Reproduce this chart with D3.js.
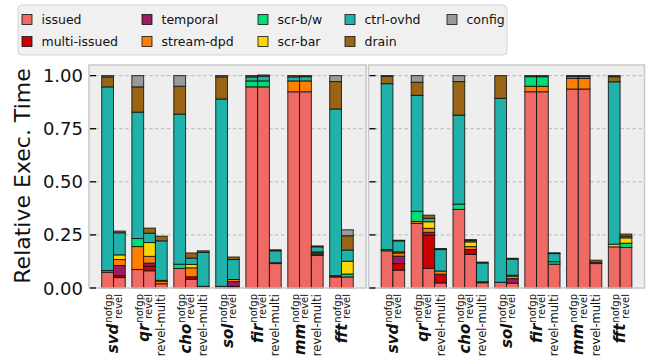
<!DOCTYPE html>
<html>
<head>
<meta charset="utf-8">
<script src="https://cdn.jsdelivr.net/npm/d3@7"></script>
<style>
  html, body { margin: 0; padding: 0; background: #fff; }
  svg { display: block; font-family: "DejaVu Sans", sans-serif; }
</style>
</head>
<body>
<svg id="chart" width="652" height="364"></svg>
<script>
// Benchmarks and the configurations run for each
const benchmarks = ["svd", "qr", "cho", "sol", "fir", "mm", "fft"];
const variants = [
  ["nofgp", "revel"],
  ["nofgp", "revel", "revel-multi"],
  ["nofgp", "revel", "revel-multi"],
  ["nofgp", "revel"],
  ["nofgp", "revel", "revel-multi"],
  ["nofgp", "revel", "revel-multi"],
  ["nofgp", "revel"]
];

// Stack components, bottom to top
const components = ["issued", "multi-issued", "temporal", "stream-dpd", "scr-b/w", "scr-bar", "ctrl-ovhd", "drain", "config"];
const colors = ["#ef6a65", "#cc0000", "#9e1a62", "#ff8000", "#00dd77", "#ffd700", "#20b2aa", "#996515", "#999999"];

// One row per panel, one value per bar (bars ordered as benchmarks x variants)
const issued = [
  [0.074, 0.049, 0.087, 0.081, 0.020, 0.092, 0.041, 0.008, 0.008, 0.004, 0.947, 0.947, 0.115, 0.924, 0.924, 0.153, 0.052, 0.052],
  [0.175, 0.084, 0.304, 0.092, 0.024, 0.370, 0.158, 0.025, 0.027, 0.023, 0.924, 0.924, 0.112, 0.937, 0.937, 0.115, 0.194, 0.191]
];
const multiIssued = [
  [0, 0.009, 0, 0.022, 0, 0, 0.012, 0, 0, 0.004, 0, 0, 0, 0, 0, 0, 0.006, 0],
  [0, 0.031, 0, 0.157, 0.041, 0, 0.023, 0.004, 0, 0, 0, 0, 0, 0, 0, 0, 0, 0]
];
const temporal = [
  [0, 0.048, 0, 0.014, 0, 0, 0, 0, 0, 0.022, 0, 0, 0, 0, 0, 0, 0, 0],
  [0, 0.035, 0, 0.013, 0, 0, 0, 0, 0, 0.021, 0, 0, 0, 0, 0, 0, 0, 0]
];
const streamDpd = [
  [0, 0.028, 0.108, 0.032, 0.012, 0, 0.042, 0, 0, 0.010, 0, 0, 0, 0.051, 0.051, 0.006, 0, 0],
  [0, 0.015, 0.009, 0.019, 0.015, 0, 0.014, 0, 0, 0.012, 0.026, 0.026, 0, 0.050, 0.050, 0, 0, 0]
];
const scrBw = [
  [0.008, 0, 0.038, 0, 0, 0.020, 0, 0, 0, 0, 0.028, 0.028, 0.004, 0, 0, 0.006, 0, 0.014],
  [0.006, 0, 0.048, 0, 0, 0.025, 0, 0, 0, 0, 0.045, 0.045, 0.012, 0, 0, 0, 0, 0.020]
];
const scrBar = [
  [0, 0.022, 0, 0.065, 0.004, 0, 0.016, 0, 0, 0, 0, 0, 0, 0, 0, 0.005, 0, 0.060],
  [0, 0.005, 0, 0.031, 0, 0, 0.022, 0, 0, 0.004, 0, 0, 0, 0, 0, 0, 0.012, 0.025]
];
const ctrlOvhd = [
  [0.865, 0.104, 0.595, 0.044, 0.186, 0.707, 0.030, 0.160, 0.882, 0.094, 0.019, 0.022, 0.056, 0.019, 0.020, 0.024, 0.785, 0.053],
  [0.781, 0.052, 0.546, 0.016, 0.101, 0.419, 0.006, 0.089, 0.866, 0.076, 0.005, 0.005, 0.038, 0.010, 0.010, 0.006, 0.765, 0.008]
];
const drain = [
  [0.047, 0.008, 0.119, 0.024, 0.022, 0.131, 0.024, 0.007, 0.104, 0.012, 0.006, 0.006, 0.005, 0.006, 0.005, 0.004, 0.129, 0.067],
  [0.035, 0.003, 0.062, 0.015, 0.005, 0.158, 0.005, 0.004, 0.107, 0.004, 0, 0, 0.004, 0.003, 0.003, 0.010, 0.024, 0.010]
];
const config = [
  [0.006, 0, 0.053, 0, 0, 0.050, 0, 0, 0.006, 0, 0, 0, 0, 0, 0, 0, 0.028, 0.028],
  [0.003, 0, 0.031, 0, 0, 0.028, 0, 0, 0, 0, 0, 0, 0, 0, 0, 0, 0.005, 0]
];
const series = [issued, multiIssued, temporal, streamDpd, scrBw, scrBar, ctrlOvhd, drain, config];

const yTicks = [0, 0.25, 0.5, 0.75, 1.0];
const yLabel = "Relative Exec. Time";

const svg = d3.select("#chart");

const plotTop = 65, plotBottom = 288;
const panels = [{x0: 89, x1: 366}, {x0: 368.5, x1: 644.5}];
const pad = 1.08, gap = 0.56;

// Position (in bar units) of each bar along the panel
const bars = [];
let cursor = pad;
variants.forEach((vs, gi) => {
  vs.forEach((v, vi) => {
    bars.push({group: gi, variant: v, vi: vi, pos: cursor});
    cursor += 1;
  });
  cursor += gap;
});
const span = cursor - gap + pad;

const y = d3.scaleLinear().domain([0, 1.05]).range([plotBottom, plotTop]);

panels.forEach((p, pi) => {
  const x = d3.scaleLinear().domain([0, span]).range([p.x0, p.x1]);
  const g = svg.append("g");

  g.append("rect").attr("x", p.x0).attr("y", plotTop)
    .attr("width", p.x1 - p.x0).attr("height", plotBottom - plotTop)
    .attr("fill", "#eeeeee");

  // dashed grid
  g.selectAll("line.grid").data(yTicks.slice(1)).join("line")
    .attr("x1", p.x0).attr("x2", p.x1)
    .attr("y1", d => y(d)).attr("y2", d => y(d))
    .attr("stroke", "#b8b8b8").attr("stroke-width", 1)
    .attr("stroke-dasharray", "3.5,2.5");

  // stacked bars
  bars.forEach((b, bi) => {
    let acc = 0;
    series.forEach((s, si) => {
      const v = s[pi][bi];
      if (v <= 0) return;
      g.append("rect")
        .attr("x", x(b.pos)).attr("width", x(b.pos + 1) - x(b.pos))
        .attr("y", y(acc + v)).attr("height", y(acc) - y(acc + v))
        .attr("fill", colors[si])
        .attr("stroke", "#111").attr("stroke-opacity", 0.85).attr("stroke-width", 1);
      acc += v;
    });
  });

  // frame
  g.append("rect").attr("x", p.x0).attr("y", plotTop)
    .attr("width", p.x1 - p.x0).attr("height", plotBottom - plotTop)
    .attr("fill", "none").attr("stroke", "#c8c8c8").attr("stroke-width", 1.5);

  // inward y ticks
  g.selectAll("line.tick").data(yTicks).join("line")
    .attr("x1", p.x0 + 1).attr("x2", p.x0 + 7)
    .attr("y1", d => y(d)).attr("y2", d => y(d))
    .attr("stroke", "#000").attr("stroke-width", 1.3);

  if (pi === 0) {
    g.selectAll("text.ytick").data(yTicks).join("text")
      .attr("x", p.x0 - 6).attr("y", d => y(d) + 6.5)
      .attr("text-anchor", "end").attr("font-size", 18).attr("fill", "#111")
      .text(d => d3.format(".2f")(d));
  }

  // x labels: benchmark name with the first two configurations as scripts,
  // plus the third configuration under its own bar
  const labelTop = 294;
  benchmarks.forEach((name, gi) => {
    const gb = bars.filter(b => b.group === gi);
    const tx = x(gb[0].pos + 1);
    const lg = g.append("g").attr("transform", `translate(${tx},${labelTop}) rotate(-90)`);
    const sup = lg.append("text").attr("x", 0).attr("y", -1)
      .attr("text-anchor", "end").attr("font-size", 10).attr("fill", "#111").text(gb[0].variant);
    const sub = lg.append("text").attr("x", 0).attr("y", 8.5)
      .attr("text-anchor", "end").attr("font-size", 10).attr("fill", "#111").text(gb[1].variant);
    const w = Math.max(sup.node().getComputedTextLength(), sub.node().getComputedTextLength());
    lg.append("text").attr("x", -w - 1).attr("y", 5)
      .attr("text-anchor", "end").attr("font-size", 15)
      .attr("font-weight", "bold").attr("font-style", "italic").attr("fill", "#111")
      .text(name);
    if (gb.length > 2) {
      const cx = x(gb[2].pos + 0.5);
      g.append("text")
        .attr("transform", `translate(${cx + 4},${labelTop}) rotate(-90)`)
        .attr("text-anchor", "end").attr("font-size", 11.5).attr("fill", "#111")
        .text(gb[2].variant);
    }
  });
});

// y axis title
svg.append("text")
  .attr("transform", `translate(30,176) rotate(-90)`)
  .attr("text-anchor", "middle").attr("font-size", 22).attr("fill", "#111")
  .text(yLabel);

// legend
const legend = svg.append("g");
legend.append("rect").attr("x", 18).attr("y", 5).attr("width", 489).attr("height", 50)
  .attr("rx", 4).attr("fill", "#f0f0f0").attr("stroke", "#d4d4d4").attr("stroke-width", 1);
const colX = [22, 142, 258, 345, 447];
const rowY = [19.5, 41.5];
components.forEach((c, i) => {
  const cx = colX[Math.floor(i / 2)], cy = rowY[i % 2];
  legend.append("rect").attr("x", cx).attr("y", cy - 5).attr("width", 10).attr("height", 10)
    .attr("fill", colors[i]).attr("stroke", "#111").attr("stroke-width", 0.8);
  legend.append("text").attr("x", cx + 19.5).attr("y", cy + 4.5)
    .attr("font-size", 12.5).attr("fill", "#111").text(c);
});
</script>
</body>
</html>
